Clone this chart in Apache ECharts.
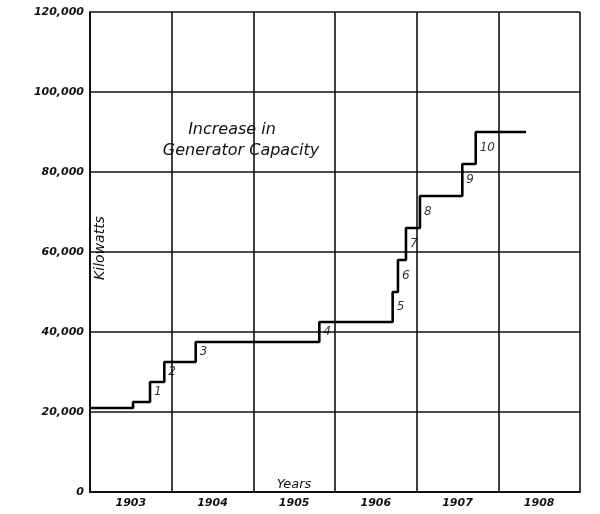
<!DOCTYPE html>
<html><head><meta charset="utf-8">
<script src="https://cdn.jsdelivr.net/npm/echarts@6/dist/echarts.min.js"></script>
<style>html,body{margin:0;padding:0;background:#fff}#c{width:600px;height:514px}</style>
</head><body><div id="c"></div>
<script>
// Step change times (fractional years) and capacity levels (kW)
const stepYears = [1903.0, 1903.527, 1903.735, 1903.91, 1904.294, 1905.808, 1906.706, 1906.771, 1906.869, 1907.04, 1907.559, 1907.723, 1908.34];
const stepKW    = [21000, 22500, 27500, 32500, 37500, 42500, 50000, 58000, 66000, 74000, 82000, 90000, 90000];
const stepNames = ['1','2','3','4','5','6','7','8','9','10'];
const yearLabels = ['1903','1904','1905','1906','1907','1908'];
const yTicks = [0, 20000, 40000, 60000, 80000, 100000, 120000];

const lineData = stepYears.map((x, i) => [x, stepKW[i]]);
// labels sit beside the risers numbered 1..10 (risers 2..11)
const labelData = stepNames.map((n, i) => [stepYears[i + 2], (stepKW[i + 1] + stepKW[i + 2]) / 2, n]);

const font = 'DejaVu Sans';
const chart = echarts.init(document.getElementById('c'));
chart.setOption({
  backgroundColor: '#fff',
  animation: false,
  title: [
    {text: 'Increase in', left: 227, top: 117, textAlign: 'center',
     textStyle: {fontFamily: font, fontStyle: 'italic', fontWeight: 'normal', fontSize: 16, color: '#111'}},
    {text: 'Generator Capacity', left: 236, top: 138, textAlign: 'center',
     textStyle: {fontFamily: font, fontStyle: 'italic', fontWeight: 'normal', fontSize: 16, color: '#111'}},
    {text: 'Years', left: 289, top: 473, textAlign: 'center',
     textStyle: {fontFamily: font, fontStyle: 'italic', fontWeight: 'normal', fontSize: 13, color: '#111'}}
  ],
  graphic: [
    {type: 'text', x: 100, y: 248, rotation: Math.PI / 2,
     style: {text: 'Kilowatts', fontFamily: font, fontStyle: 'italic', fontSize: 14, fill: '#111',
       textAlign: 'center', textVerticalAlign: 'middle'}}
  ],
  grid: {left: 90, right: 20, top: 12, bottom: 22, show: false},
  xAxis: [
    {type: 'value', min: 1903, max: 1909, interval: 1,
     axisLine: {show: true, lineStyle: {color: '#111', width: 2}},
     axisTick: {show: false}, axisLabel: {show: false},
     splitLine: {show: true, lineStyle: {color: '#111', width: 1.6}}},
    {type: 'category', data: yearLabels, position: 'bottom', boundaryGap: true,
     axisLine: {show: false}, axisTick: {show: false}, splitLine: {show: false},
     axisLabel: {margin: 6, fontFamily: font, fontStyle: 'italic', fontWeight: 'bold', fontSize: 11, color: '#111'}}
  ],
  yAxis: {
    type: 'value', min: 0, max: 120000, interval: 20000,
    axisLine: {show: true, lineStyle: {color: '#111', width: 2}},
    axisTick: {show: false},
    axisLabel: {margin: 6, fontFamily: font, fontStyle: 'italic', fontWeight: 'bold', fontSize: 11, color: '#111',
      formatter: v => yTicks.includes(v) ? (v === 0 ? '0' : v.toLocaleString('en-US')) : ''},
    splitLine: {show: true, lineStyle: {color: '#111', width: 1.6}}
  },
  series: [
    {type: 'line', xAxisIndex: 0, step: 'end', data: lineData, symbol: 'none',
     lineStyle: {color: '#000', width: 2.6}},
    {type: 'scatter', xAxisIndex: 0, data: labelData, symbolSize: 0,
     label: {show: true, position: 'right', distance: 4, formatter: p => p.data[2],
       fontFamily: font, fontStyle: 'italic', fontSize: 12, color: '#000'}}
  ]
});
</script></body></html>
